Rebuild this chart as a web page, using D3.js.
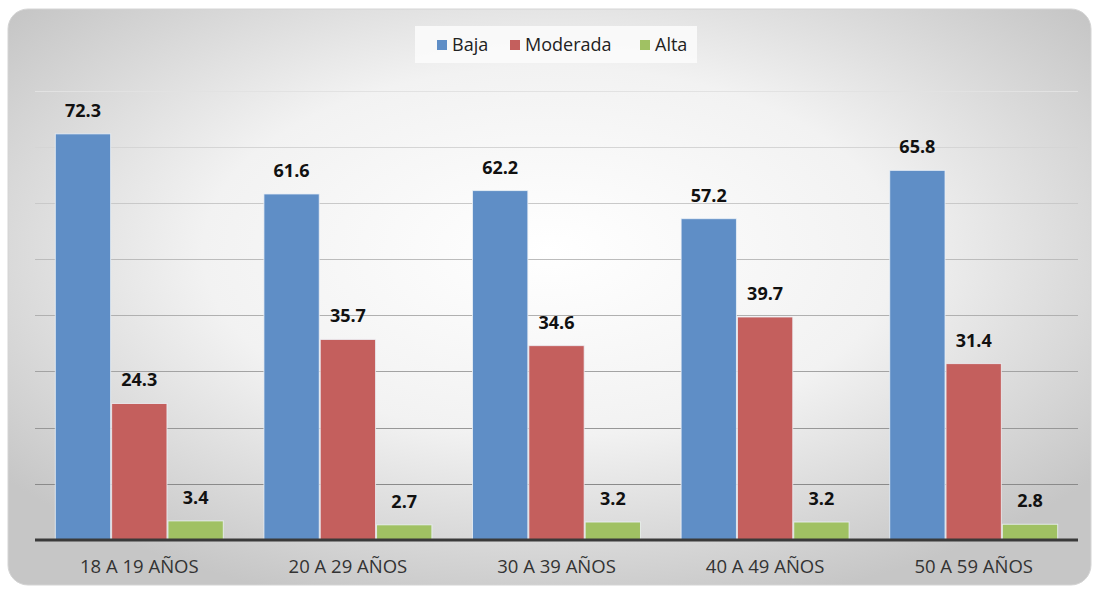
<!DOCTYPE html>
<html>
<head>
<meta charset="utf-8">
<script src="https://cdn.jsdelivr.net/npm/d3@7"></script>
<style>
  html, body { margin: 0; padding: 0; background: #fff; }
  svg { display: block; }
</style>
</head>
<body>
<svg class="chart" width="1100" height="589"></svg>
<script>
const categories = ["18 A 19 AÑOS", "20 A 29 AÑOS", "30 A 39 AÑOS", "40 A 49 AÑOS", "50 A 59 AÑOS"];
const seriesNames = ["Baja", "Moderada", "Alta"];
const baja = [72.3, 61.6, 62.2, 57.2, 65.8];
const moderada = [24.3, 35.7, 34.6, 39.7, 31.4];
const alta = [3.4, 2.7, 3.2, 3.2, 2.8];
const gridTicks = [10, 20, 30, 40, 50, 60, 70, 80];

const colors = ["#5f8ec6", "#c45f5d", "#a0c163"];
const seriesValues = [baja, moderada, alta];

const plot = { left: 35, right: 1078, top: 90.6, bottom: 540 };
const font = "'Open Sans', 'Noto Sans', sans-serif";

const svg = d3.select("svg.chart");
const defs = svg.append("defs");

const bg = defs.append("radialGradient")
  .attr("id", "bgGrad")
  .attr("cx", "50%").attr("cy", "42%").attr("r", "64%");
bg.append("stop").attr("offset", "0%").attr("stop-color", "#ffffff");
bg.append("stop").attr("offset", "50%").attr("stop-color", "#f2f2f2");
bg.append("stop").attr("offset", "100%").attr("stop-color", "#c6c6c6");

// panel
svg.append("rect")
  .attr("x", 8).attr("y", 9)
  .attr("width", 1083).attr("height", 576)
  .attr("rx", 20).attr("ry", 20)
  .attr("fill", "url(#bgGrad)")
  .attr("stroke", "#d4d4d4")
  .attr("stroke-width", 1);

const x0 = d3.scaleBand()
  .domain(categories)
  .range([plot.left, plot.right])
  .paddingInner(0.19)
  .paddingOuter(0.095);

const x1 = d3.scaleBand()
  .domain(seriesNames)
  .range([0, x0.bandwidth()])
  .padding(0);

const y = d3.scaleLinear()
  .domain([0, 80])
  .range([plot.bottom, plot.top]);

// gridlines, lighter toward the top like the original
const gridColor = d3.scaleLinear().domain([10, 80]).range(["#8a8a8a", "#e2e2e2"]);
svg.append("g")
  .selectAll("line")
  .data(gridTicks)
  .join("line")
  .attr("x1", plot.left)
  .attr("x2", plot.right)
  .attr("y1", d => Math.round(y(d)) + 0.5)
  .attr("y2", d => Math.round(y(d)) + 0.5)
  .attr("stroke", d => gridColor(d))
  .attr("stroke-width", 1.2);

const rows = categories.map((c, i) => ({
  cat: c,
  values: seriesNames.map((s, j) => ({ series: s, idx: j, value: seriesValues[j][i] }))
}));

const groups = svg.append("g")
  .selectAll("g")
  .data(rows)
  .join("g")
  .attr("transform", d => `translate(${x0(d.cat)},0)`);

groups.selectAll("rect")
  .data(d => d.values)
  .join("rect")
  .attr("x", d => x1(d.series) + 0.5)
  .attr("y", d => y(d.value))
  .attr("width", x1.bandwidth() - 1)
  .attr("height", d => plot.bottom - y(d.value))
  .attr("fill", d => colors[d.idx])
  .attr("stroke", "#eef2f7")
  .attr("stroke-opacity", 0.8)
  .attr("stroke-width", 1);

groups.selectAll("text")
  .data(d => d.values)
  .join("text")
  .attr("x", d => x1(d.series) + x1.bandwidth() / 2)
  .attr("y", d => y(d.value) - 17)
  .attr("text-anchor", "middle")
  .attr("font-family", font)
  .attr("font-weight", "bold")
  .attr("font-size", 18)
  .attr("fill", "#111")
  .text(d => d.value.toFixed(1));

// baseline
svg.append("line")
  .attr("x1", plot.left).attr("x2", plot.right)
  .attr("y1", plot.bottom).attr("y2", plot.bottom)
  .attr("stroke", "#3a3a3a")
  .attr("stroke-width", 3);

// category axis labels
const xAxis = svg.append("g")
  .attr("transform", `translate(0,${plot.bottom})`)
  .call(d3.axisBottom(x0).tickSize(0).tickPadding(20));
xAxis.select(".domain").remove();
xAxis.selectAll("text")
  .attr("font-family", font)
  .attr("font-size", 18.5)
  .attr("fill", "#333");

// legend
const legend = svg.append("g");
legend.append("rect")
  .attr("x", 415).attr("y", 26)
  .attr("width", 282).attr("height", 37)
  .attr("fill", "#fbfbfb")
  .attr("opacity", 0.85);

const legendX = [437, 510, 640];
const items = legend.selectAll("g")
  .data(seriesNames)
  .join("g")
  .attr("transform", (d, i) => `translate(${legendX[i]},45)`);
items.append("rect")
  .attr("x", 0).attr("y", -5)
  .attr("width", 10).attr("height", 10)
  .attr("fill", (d, i) => colors[i]);
items.append("text")
  .attr("x", 15)
  .attr("y", 0)
  .attr("dy", "0.36em")
  .attr("font-family", font)
  .attr("font-size", 18)
  .attr("fill", "#222")
  .text(d => d);
</script>
</body>
</html>
